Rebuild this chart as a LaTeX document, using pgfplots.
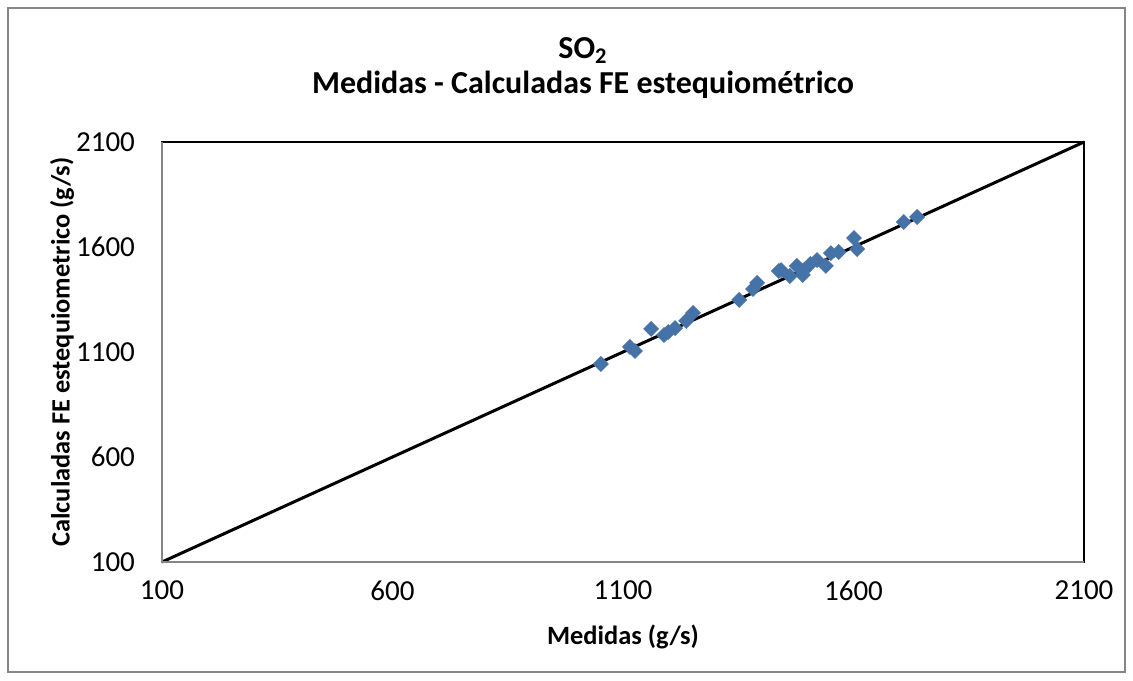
\documentclass[border=0pt]{standalone}
\usepackage{pgfplots}
\pgfplotsset{compat=1.18}
\usepackage{fontspec}
\setmainfont{Carlito}
\definecolor{mk}{HTML}{4572A7}
\definecolor{axgray}{HTML}{868686}
\begin{document}
\begin{tikzpicture}
\useasboundingbox (-81pt,-59pt) rectangle (485.5pt,281pt);
\draw[axgray, line width=1.2pt] (-77pt,-55pt) rectangle (481.5pt,277pt);
\begin{axis}[
  at={(0,0)}, anchor=south west,
  scale only axis, width=461pt, height=210pt,
  xmin=100, xmax=2100, ymin=100, ymax=2100,
  xtick={100,600,1100,1600,2100}, ytick={100,600,1100,1600,2100},
  major tick length=0pt,
  axis line style={black, line width=0.8pt},
  tick label style={font=\fontsize{14.5}{17}\selectfont},
  /pgf/number format/assume math mode=true,
  /pgf/number format/1000 sep={},
  xticklabel style={yshift=-6pt},
  yticklabel style={xshift=-10pt},
  every axis x label/.style={at={(axis description cs:0.5,0)}, anchor=center, yshift=-37.5pt},
  every axis y label/.style={at={(axis description cs:-0.1085,0.5)}, rotate=90, anchor=center},
  label style={font=\bfseries\fontsize{13.2}{15}\selectfont},
  xlabel={Medidas (g/s)},
  ylabel={Calculadas FE estequiometrico (g/s)},
  clip=false,
]
\addplot[black, line width=1.5pt] coordinates {(100,100) (2100,2100)};
\addplot[only marks, mark=square*, mark size=2.6pt, mark options={rotate=45, fill=mk, draw=mk}] coordinates {
(1052,1043) (1115,1124) (1126,1105) (1161,1210) (1189,1181) (1198,1195)
(1213,1214) (1237,1248) (1252,1286) (1352,1348) (1382,1400) (1391,1429)
(1438,1486) (1443,1490) (1462,1462) (1477,1510) (1493,1490) (1490,1467)
(1506,1519) (1521,1538) (1540,1510) (1551,1571) (1568,1576) (1601,1643)
(1608,1590) (1709,1719) (1738,1743)
};
\draw[axgray, line width=1.2pt] (rel axis cs:0,1) -- (rel axis cs:0,0) -- (rel axis cs:1,0);
\end{axis}
\node[font=\bfseries\fontsize{16}{17.5}\selectfont, align=center] at (210.5pt,247pt) {SO\textsubscript{2}\\Medidas - Calculadas FE estequiométrico};
\end{tikzpicture}
\end{document}
